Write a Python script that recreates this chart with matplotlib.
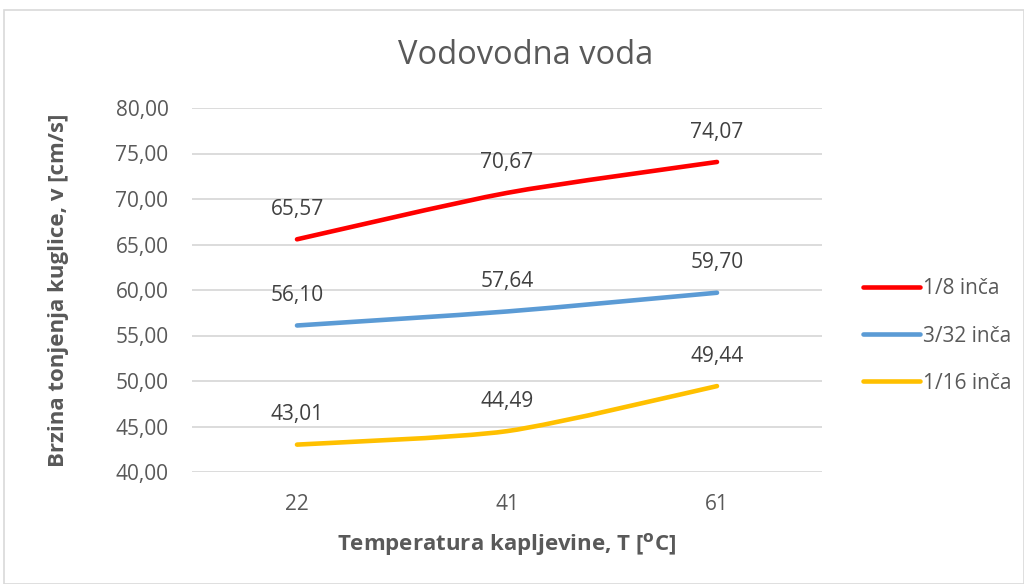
import matplotlib
matplotlib.use("Agg")
import matplotlib.pyplot as plt
from matplotlib.path import Path
from matplotlib.patches import PathPatch, Rectangle
from matplotlib.lines import Line2D

categories = ["22", "41", "61"]
series_names = ["1/8 inča", "3/32 inča", "1/16 inča"]
s_18 = [65.57, 70.67, 74.07]
s_332 = [56.10, 57.64, 59.70]
s_116 = [43.01, 44.49, 49.44]
yticks = [40, 45, 50, 55, 60, 65, 70, 75, 80]

colors = ["#FF0000", "#5B9BD5", "#FFC000"]
all_series = [s_18, s_332, s_116]

plt.rcParams['font.family'] = ['Open Sans', 'DejaVu Sans']
txt = "#595959"

fig = plt.figure(figsize=(10.24, 5.84), dpi=100)
fig.patches.append(Rectangle((4/1024, 0), 1 - 4/1024, 1 - 10/584, transform=fig.transFigure,
                             fill=False, edgecolor="#D9D9D9", linewidth=1.2))
ax = fig.add_axes([192/1024, 1 - 472/584, 630/1024, 364/584])

x = list(range(len(categories)))


def smooth_path(xs, ys, t=0.12):
    verts = [(xs[0], ys[0])]
    codes = [Path.MOVETO]
    n = len(xs)
    for i in range(n - 1):
        p0 = (xs[max(i - 1, 0)], ys[max(i - 1, 0)])
        p1 = (xs[i], ys[i])
        p2 = (xs[i + 1], ys[i + 1])
        p3 = (xs[min(i + 2, n - 1)], ys[min(i + 2, n - 1)])
        c1 = (p1[0] + (p2[0] - p0[0]) * t, p1[1] + (p2[1] - p0[1]) * t)
        c2 = (p2[0] - (p3[0] - p1[0]) * t, p2[1] - (p3[1] - p1[1]) * t)
        verts += [c1, c2, p2]
        codes += [Path.CURVE4] * 3
    return Path(verts, codes)


for ys, c in zip(all_series, colors):
    patch = PathPatch(smooth_path(x, ys), facecolor="none", edgecolor=c, lw=3.3,
                      capstyle="round", zorder=3)
    ax.add_patch(patch)
    for xi, yi in zip(x, ys):
        ax.annotate(f"{yi:.2f}".replace(".", ","), (xi, yi), xytext=(0, 14),
                    textcoords="offset points", ha="center", va="bottom",
                    fontsize=15, color="#404040")

ax.set_xlim(-0.5, len(categories) - 0.5)
ax.set_ylim(40, 80)
ax.set_yticks(yticks)
ax.set_yticklabels([f"{v:.2f}".replace(".", ",") for v in yticks])
ax.set_xticks(x)
ax.set_xticklabels(categories)
ax.tick_params(axis="both", length=0, labelsize=15, colors=txt)
ax.tick_params(axis="y", pad=17)
ax.tick_params(axis="x", pad=16)
ax.grid(axis="y", color="#D9D9D9", lw=1.3)
ax.set_axisbelow(True)
for s in ax.spines.values():
    s.set_visible(False)

ax.set_ylabel("Brzina tonjenja kuglice, v [cm/s]", fontsize=16, fontweight="bold",
              color=txt, labelpad=33)
ax.set_xlabel(r"Temperatura kapljevine, T [$^{\mathbf{o}}$C]", fontsize=16,
              fontweight="bold", color=txt, labelpad=11)
fig.text(526/1024, 1 - 55/584, "Vodovodna voda", ha="center", va="center",
         fontsize=23.5, color=txt)

handles = [Line2D([0], [0], color=c, lw=3.3, solid_capstyle="round") for c in colors]
leg = fig.legend(handles, series_names, loc="center left",
                 bbox_to_anchor=(844/1024, 1 - 336/584), frameon=False,
                 fontsize=15, labelcolor=txt, handlelength=2.75, handletextpad=0.15,
                 labelspacing=1.25)

fig.savefig("out.png", dpi=100)
